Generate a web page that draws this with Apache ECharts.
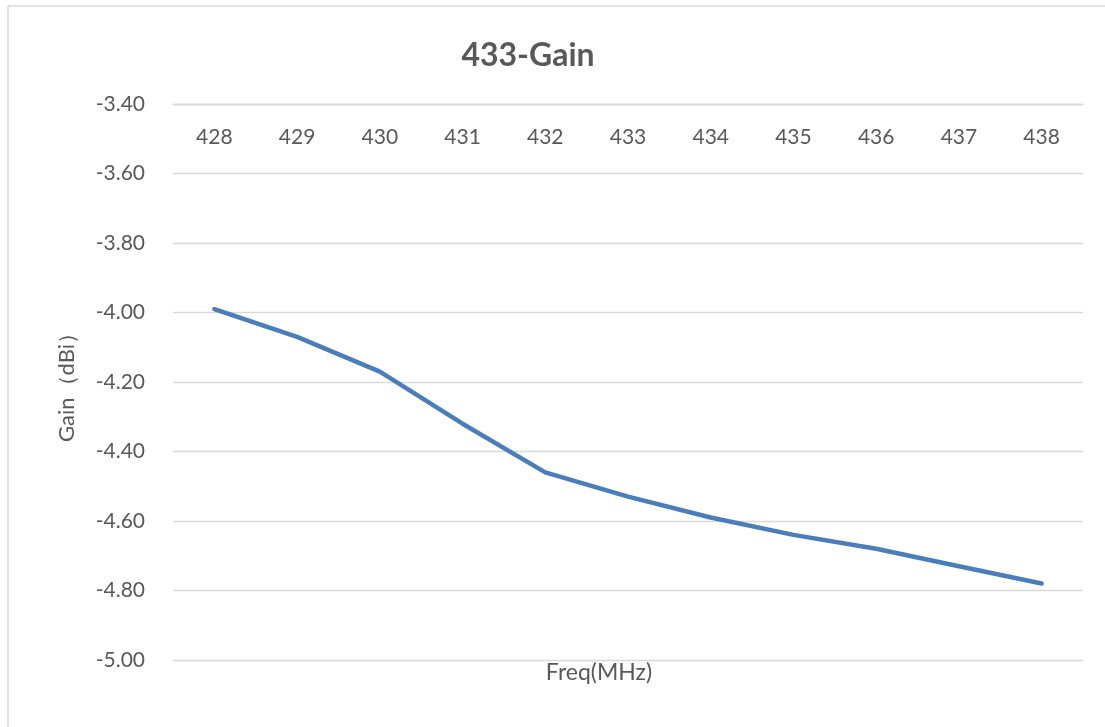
<!DOCTYPE html>
<html>
<head>
<meta charset="utf-8">
<script src="https://cdn.jsdelivr.net/npm/echarts@6/dist/echarts.min.js"></script>
<style>
html,body{margin:0;padding:0;background:#fff;}
#main{width:1105px;height:727px;}
</style>
</head>
<body>
<div id="main"></div>
<script>
const categories = ['428','429','430','431','432','433','434','435','436','437','438'];
const gainValues = [-3.99, -4.07, -4.17, -4.32, -4.46, -4.53, -4.59, -4.64, -4.68, -4.73, -4.78];
const chartTitle = '433-Gain';
const xName = 'Freq(MHz)';
const yName = 'Gain（dBi）';

const FONT = 'Lato, "Open Sans", sans-serif';
const TXT = '#595959';
const GRID = '#d9d9d9';

const chart = echarts.init(document.getElementById('main'), null, {renderer: 'canvas'});
chart.setOption({
  backgroundColor: '#fff',
  animation: false,
  title: {
    text: chartTitle,
    left: 523, top: 35,
    textAlign: 'center',
    textStyle: {fontFamily: FONT, fontSize: 32, fontWeight: 'bold', color: TXT}
  },
  grid: {left: 173, right: 22, top: 104, bottom: 67, containLabel: false},
  xAxis: {
    type: 'category',
    data: categories,
    position: 'top',
    boundaryGap: true,
    axisLine: {show: true, lineStyle: {color: GRID, width: 1.3}},
    axisTick: {show: false},
    axisLabel: {inside: true, margin: 23, color: TXT, fontFamily: FONT, fontSize: 21},
    splitLine: {show: false}
  },
  yAxis: {
    type: 'value',
    min: -5, max: -3.4, interval: 0.2,
    name: yName,
    nameLocation: 'middle',
    nameGap: 95,
    nameTextStyle: {color: TXT, fontFamily: FONT, fontSize: 22},
    axisLine: {show: false},
    axisTick: {show: false},
    axisLabel: {margin: 28, color: TXT, fontFamily: FONT, fontSize: 21,
      formatter: v => v.toFixed(2)},
    splitLine: {show: true, lineStyle: {color: GRID, width: 1.3}}
  },
  series: [{
    type: 'line',
    data: gainValues,
    showSymbol: false,
    symbol: 'none',
    lineStyle: {color: '#4a7ebb', width: 4.5, cap: 'round', join: 'round'},
    itemStyle: {color: '#4a7ebb'}
  }],
  graphic: [
    {type: 'line', shape: {x1: 8, y1: 6, x2: 1105, y2: 6}, style: {stroke: GRID, lineWidth: 1.5}, silent: true},
    {type: 'line', shape: {x1: 8, y1: 6, x2: 8, y2: 727}, style: {stroke: GRID, lineWidth: 1.5}, silent: true},
    {type: 'text', x: 599, y: 673, style: {text: xName, fill: TXT, font: '23px ' + FONT, textAlign: 'center', textVerticalAlign: 'middle'}}
  ]
});
</script>
</body>
</html>
